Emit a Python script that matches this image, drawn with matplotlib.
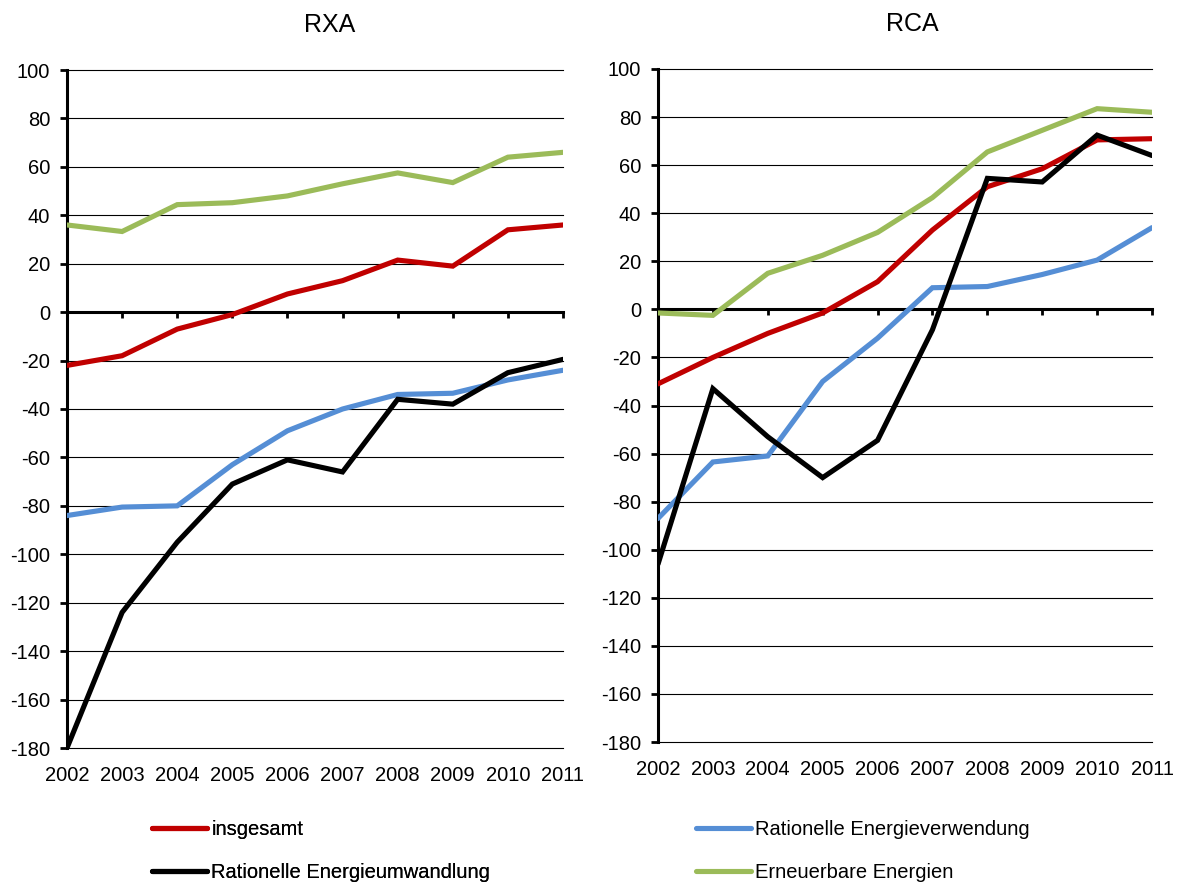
import numpy as np
import matplotlib.pyplot as plt
from matplotlib.lines import Line2D

plt.rcParams['font.family'] = ['Liberation Sans', 'DejaVu Sans']
plt.rcParams['axes.unicode_minus'] = False

years = ['2002', '2003', '2004', '2005', '2006', '2007', '2008', '2009', '2010', '2011']

# RXA
rxa_gesamt = [-22, -18, -7, -1, 7.5, 13, 21.5, 19, 34, 36]
rxa_verwendung = [-84, -80.5, -80, -63, -49, -40, -34, -33.5, -28, -24]
rxa_umwandlung = [-180, -124, -95, -71, -61, -66, -36, -38, -25, -19.5]
rxa_erneuerbar = [36, 33.3, 44.4, 45.2, 48, 53, 57.5, 53.5, 64, 66]

# RCA
rca_gesamt = [-31, -20, -10, -1.5, 11.5, 33, 51, 58.5, 70.5, 71]
rca_verwendung = [-87, -63.5, -61, -30, -12, 9, 9.5, 14.5, 20.5, 34]
rca_umwandlung = [-106, -33, -53, -70, -54.5, -8.5, 54.5, 53, 72.5, 64]
rca_erneuerbar = [-1.5, -2.5, 15, 22.5, 32, 46.5, 65.5, 74.5, 83.5, 82]

labels = ['insgesamt', 'Rationelle Energieverwendung',
          'Rationelle Energieumwandlung', 'Erneuerbare Energien']
colors = ['#C00000', '#558ED5', '#000000', '#9BBB59']

fs = 14.5

fig = plt.figure(figsize=(11.77, 8.85), dpi=100)
ax1 = fig.add_axes([67 / 1177, 1 - 748 / 885, 496 / 1177, 678 / 885])
ax2 = fig.add_axes([658 / 1177, 1 - 742 / 885, 494 / 1177, 673 / 885])


def draw(ax, series):
    x = np.arange(len(years))
    for vals, c in zip(series, colors):
        ax.plot(x, vals, color=c, lw=3.7, solid_capstyle='round',
                solid_joinstyle='miter', zorder=3)
    ax.set_xlim(0, len(years) - 1)
    ax.set_ylim(-180, 100)
    ax.set_yticks(np.arange(-180, 101, 20))
    ax.yaxis.grid(True, color='black', lw=0.8)
    for gl in ax.get_ygridlines():
        gl.set_clip_on(False)
    ax.set_axisbelow(True)
    for s in ['top', 'right', 'bottom']:
        ax.spines[s].set_visible(False)
    ax.spines['left'].set_linewidth(2.2)
    ax.tick_params(axis='y', direction='out', length=5, width=2, pad=7,
                   labelsize=fs)
    ax.set_xticks(x)
    ax.set_xticklabels(years)
    ax.tick_params(axis='x', length=0, pad=13, labelsize=fs)
    # Nulllinie mit Teilstrichen
    sec = ax.secondary_xaxis(0, transform=ax.transData)
    sec.set_xticks(x)
    sec.set_xticklabels([])
    sec.spines['bottom'].set_linewidth(2.2)
    sec.tick_params(direction='out', length=4, width=2)


draw(ax1, [rxa_gesamt, rxa_verwendung, rxa_umwandlung, rxa_erneuerbar])
draw(ax2, [rca_gesamt, rca_verwendung, rca_umwandlung, rca_erneuerbar])

fig.text(330 / 1177, 1 - 25 / 885, 'RXA', ha='center', va='center', fontsize=18)
fig.text(912 / 1177, 1 - 24 / 885, 'RCA', ha='center', va='center', fontsize=18)

handles = [Line2D([], [], color=c, lw=3.7, solid_capstyle='round') for c in colors]
leg_kw = dict(frameon=False, fontsize=fs, handlelength=2.75, handletextpad=0.2,
              borderpad=0, borderaxespad=0, labelspacing=1.15, loc='center left')
leg1 = fig.legend([handles[0], handles[2]], [labels[0], labels[2]],
                  bbox_to_anchor=(152 / 1177, 1 - 851 / 885), **leg_kw)
fig.add_artist(leg1)
fig.legend([handles[1], handles[3]], [labels[1], labels[3]],
           bbox_to_anchor=(696 / 1177, 1 - 851 / 885), **leg_kw)

fig.savefig('out.png', dpi=100)
